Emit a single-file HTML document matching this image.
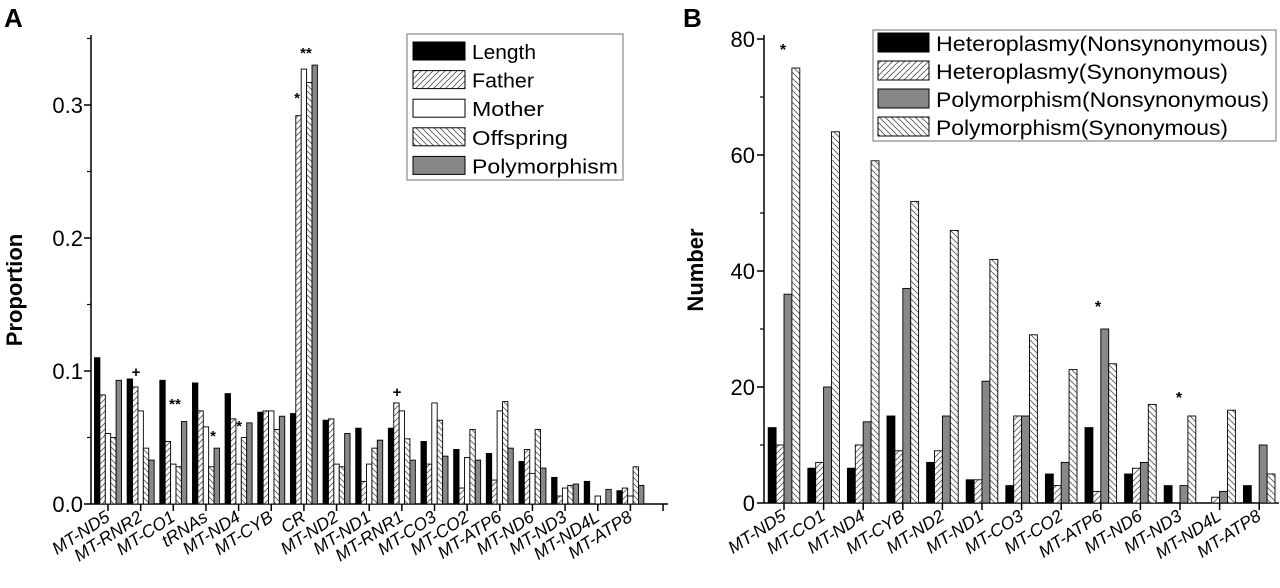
<!DOCTYPE html>
<html><head><meta charset="utf-8"><style>
body{margin:0;background:#fff}
svg{display:block;font-family:"Liberation Sans",Arial,sans-serif}
</style></head><body>
<svg id="chart" width="1280" height="588" viewBox="0 0 1280 588">
<defs>
<pattern id="fwd" patternUnits="userSpaceOnUse" width="6" height="6"><rect width="6" height="6" fill="#fff"/><path d="M-1,7 L7,-1 M-1,1 L1,-1 M5,7 L7,5" stroke="#555" stroke-width="0.8"/></pattern>
<pattern id="bwd" patternUnits="userSpaceOnUse" width="6" height="6"><rect width="6" height="6" fill="#fff"/><path d="M-1,-1 L7,7 M5,-1 L7,1 M-1,5 L1,7" stroke="#555" stroke-width="0.8"/></pattern>
</defs>
<g id="pa"></g><g id="pb"></g>
</svg>
<script>
const catsA=["MT-ND5","MT-RNR2","MT-CO1","tRNAs","MT-ND4","MT-CYB","CR","MT-ND2","MT-ND1","MT-RNR1","MT-CO3","MT-CO2","MT-ATP6","MT-ND6","MT-ND3","MT-ND4L","MT-ATP8"];
const lengthA=[0.110,0.094,0.093,0.091,0.083,0.069,0.068,0.063,0.057,0.057,0.047,0.041,0.038,0.032,0.020,0.017,0.010];
const fatherA=[0.082,0.088,0.047,0.070,0.064,0.070,0.292,0.064,0.017,0.076,0.030,0.012,0.018,0.041,0.006,0,0.012];
const motherA=[0.053,0.070,0.030,0.058,0.030,0.070,0.327,0.030,0.030,0.070,0.076,0.035,0.070,0.023,0.012,0.006,0.006];
const offspringA=[0.050,0.042,0.028,0.028,0.050,0.056,0.317,0.028,0.042,0.049,0.063,0.056,0.077,0.056,0.014,0,0.028];
const polyA=[0.093,0.033,0.062,0.042,0.061,0.066,0.330,0.053,0.048,0.033,0.036,0.033,0.042,0.027,0.015,0.011,0.014];
const ticksA=["0.0","0.1","0.2","0.3"];
const catsB=["MT-ND5","MT-CO1","MT-ND4","MT-CYB","MT-ND2","MT-ND1","MT-CO3","MT-CO2","MT-ATP6","MT-ND6","MT-ND3","MT-ND4L","MT-ATP8"];
const hetNonB=[13,6,6,15,7,4,3,5,13,5,3,0,3];
const hetSynB=[10,7,10,9,9,4,15,3,2,6,0,1,0];
const polNonB=[36,20,14,37,15,21,15,7,30,7,3,2,10];
const polSynB=[75,64,59,52,47,42,29,23,24,17,15,16,5];
const ticksB=["0","20","40","60","80"];

const NS="http://www.w3.org/2000/svg";
function mk(p,t,a,txt){const e=document.createElementNS(NS,t);for(const k in a)e.setAttribute(k,a[k]);if(txt!==undefined)e.textContent=txt;p.appendChild(e);return e;}
const fills=["#000","url(#fwd)","#fff","url(#bwd)","#888"];

// Panel A
const pa=document.getElementById('pa');
const ax0=91,ay0=504,ayTop=35;
const xA=i=>108+i*32.65;
const yA=v=>ay0-v*1330;
let t=mk(pa,'text',{x:4,y:27,'font-size':26,'font-weight':'bold'},'A');

t=mk(pa,'text',{transform:'translate(22,290) rotate(-90)','text-anchor':'middle','font-size':22,'font-weight':'bold'},'Proportion');

mk(pa,'line',{x1:ax0,y1:ayTop,x2:ax0,y2:ay0,stroke:'#000','stroke-width':1.5});
mk(pa,'line',{x1:ax0,y1:ay0,x2:668,y2:ay0,stroke:'#000','stroke-width':1.5});
ticksA.forEach((s,i)=>{const v=parseFloat(s);const y=yA(v);
 mk(pa,'line',{x1:ax0-7,y1:y,x2:ax0,y2:y,stroke:'#000','stroke-width':1.5});
 const tl=mk(pa,'text',{x:ax0-8,y:y+8,'text-anchor':'end','font-size':22},s);
 
 const ym=yA(v+0.05);if(ym>ayTop)mk(pa,'line',{x1:ax0-4,y1:ym,x2:ax0,y2:ym,stroke:'#000','stroke-width':1.2});
});
const seriesA=[lengthA,fatherA,motherA,offspringA,polyA];
const namesA=["length","father","mother","offspring","polymorphism"];
const bwA=5.4;
catsA.forEach((c,i)=>{
 seriesA.forEach((ser,j)=>{const v=ser[i];if(v<=0)return;const x=xA(i)-2.5*bwA+j*bwA;
  const r=mk(pa,'rect',{x:x,y:yA(v),width:bwA,height:ay0-yA(v),fill:fills[j],stroke:'#000','stroke-width':0.9});
  });
});
for(let i=0;i<=17;i++){mk(pa,'line',{x1:xA(i),y1:ay0,x2:xA(i),y2:ay0+7,stroke:'#000','stroke-width':1.5});}
catsA.forEach((c,i)=>{const l=mk(pa,'text',{transform:`translate(${xA(i)+3},${ay0+16}) rotate(-33)`,'text-anchor':'end','font-size':17.5,'font-style':'italic'},c);
 });
[["+",136,377],["**",175,409],["*",213,441],["*",239,431],["*",297,103],["**",306,58],["+",397,397]].forEach(a=>{
 const m=mk(pa,'text',{x:a[1],y:a[2],'text-anchor':'middle','font-size':15,'font-weight':'bold'},a[0]);
 });
// legend A
const lgA=mk(pa,'g',{});
mk(lgA,'rect',{x:407,y:34,width:216,height:146,fill:'#fff',stroke:'#888','stroke-width':1.2});
const lenA=[64,62,72,96,146];
["Length","Father","Mother","Offspring","Polymorphism"].forEach((s,j)=>{const y=42+j*28.6;
 const g=mk(lgA,'g',{});
 mk(g,'rect',{x:413,y:y,width:52,height:18,fill:fills[j],stroke:'#000','stroke-width':1});
 mk(g,'text',{x:472,y:y+17,'font-size':20,textLength:lenA[j],lengthAdjust:'spacingAndGlyphs'},s);});

// Panel B
const pb=document.getElementById('pb');
const bx0=764,by0=503;
const xB=i=>784+i*39.6;
const yB=v=>by0-v*5.8;
t=mk(pb,'text',{x:683,y:27,'font-size':26,'font-weight':'bold'},'B');

t=mk(pb,'text',{transform:'translate(703,270) rotate(-90)','text-anchor':'middle','font-size':22,'font-weight':'bold'},'Number');

mk(pb,'line',{x1:bx0,y1:35,x2:bx0,y2:by0,stroke:'#000','stroke-width':1.5});
mk(pb,'line',{x1:bx0,y1:by0,x2:1279,y2:by0,stroke:'#000','stroke-width':1.5});
ticksB.forEach(s=>{const v=+s;const y=yB(v);
 mk(pb,'line',{x1:bx0-7,y1:y,x2:bx0,y2:y,stroke:'#000','stroke-width':1.5});
 const tl=mk(pb,'text',{x:bx0-9,y:y+8,'text-anchor':'end','font-size':22},s);
 
 if(v<80){const ym=yB(v+10);mk(pb,'line',{x1:bx0-4,y1:ym,x2:bx0,y2:ym,stroke:'#000','stroke-width':1.2});}
});
const seriesB=[hetNonB,hetSynB,polNonB,polSynB];
const fillsB=["#000","url(#fwd)","#888","url(#bwd)"];
const namesB=["hetero-nonsyn","hetero-syn","poly-nonsyn","poly-syn"];
const bwB=7.9;
catsB.forEach((c,i)=>{
 seriesB.forEach((ser,j)=>{const v=ser[i];if(v<=0)return;const x=xB(i)-2*bwB+j*bwB;
  const r=mk(pb,'rect',{x:x,y:yB(v),width:bwB,height:by0-yB(v),fill:fillsB[j],stroke:'#000','stroke-width':0.9});
  });
});
for(let i=0;i<13;i++){mk(pb,'line',{x1:xB(i),y1:by0,x2:xB(i),y2:by0+7,stroke:'#000','stroke-width':1.5});}
catsB.forEach((c,i)=>{const l=mk(pb,'text',{transform:`translate(${xB(i)+3},${by0+16}) rotate(-33)`,'text-anchor':'end','font-size':17.5,'font-style':'italic'},c);
 });
[["*",783,55],["*",1098,312],["*",1179,403]].forEach(a=>{
 const m=mk(pb,'text',{x:a[1],y:a[2],'text-anchor':'middle','font-size':16,'font-weight':'bold'},a[0]);
 });
const lgB=mk(pb,'g',{});
mk(lgB,'rect',{x:873,y:30,width:403,height:111,fill:'#fff',stroke:'#888','stroke-width':1.2});
const lenB=[332,292,333,292];
["Heteroplasmy(Nonsynonymous)","Heteroplasmy(Synonymous)","Polymorphism(Nonsynonymous)","Polymorphism(Synonymous)"].forEach((s,j)=>{const y=33+j*28;
 const g=mk(lgB,'g',{});
 mk(g,'rect',{x:878,y:y,width:51,height:19,fill:fillsB[j],stroke:'#000','stroke-width':1});
 mk(g,'text',{x:936,y:y+18,'font-size':21,textLength:lenB[j],lengthAdjust:'spacingAndGlyphs'},s);});
</script>
</body></html>
